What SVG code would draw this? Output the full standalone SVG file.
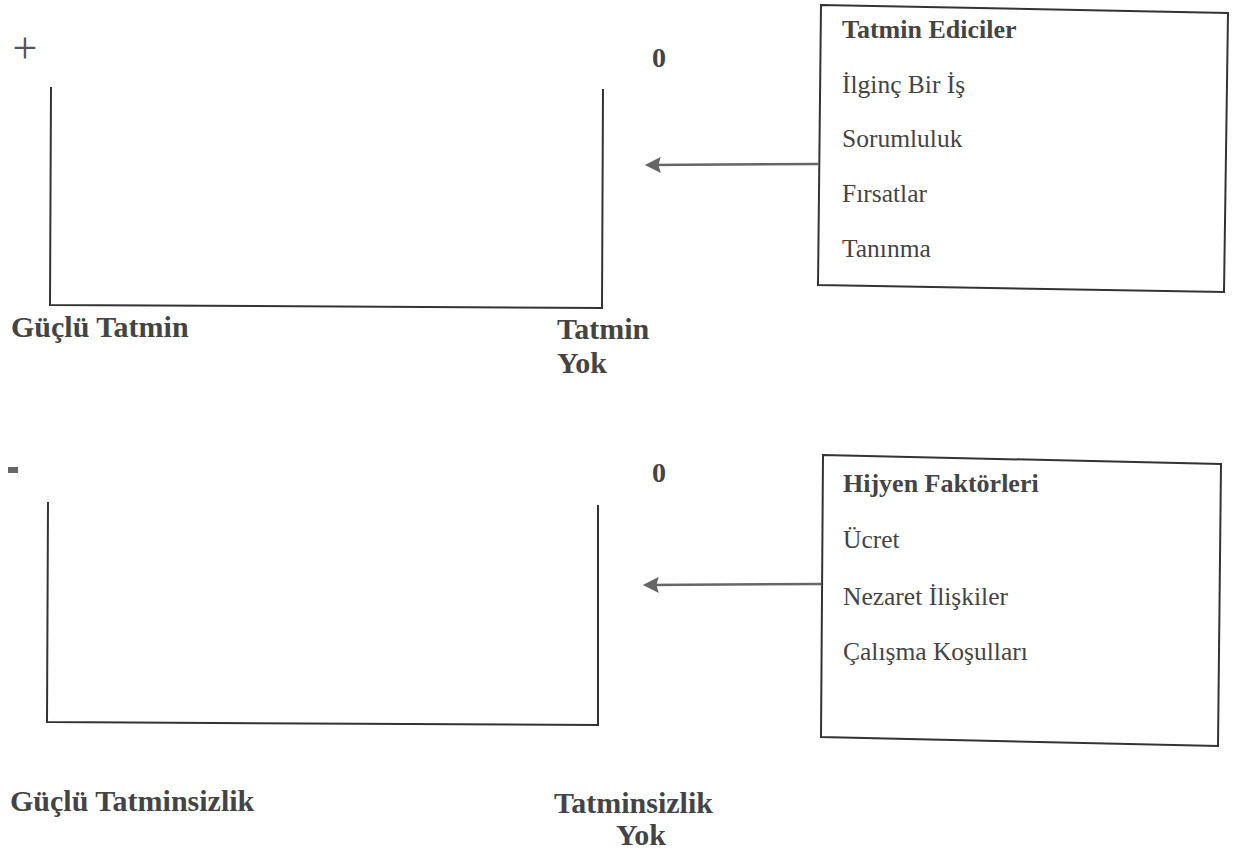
<svg xmlns="http://www.w3.org/2000/svg" width="1235" height="862" viewBox="0 0 1235 862">
<style>
.t{font-family:"Liberation Serif","Times New Roman",serif;fill:#444}
.b{font-weight:bold}
.big{font-size:30px}
.hd{font-size:26px}
.it{font-size:25.5px}
.ln{fill:none;stroke:#333;stroke-width:2}
.box{fill:none;stroke:#333;stroke-width:2}
.conn{stroke:#666;stroke-width:2.5;fill:none}
</style>
<defs>
<marker id="ah" viewBox="0 0 10 10" refX="8" refY="5" markerWidth="7" markerHeight="6.4" orient="auto" markerUnits="strokeWidth">
<path d="M10,5 L0,0 L1.5,5 L0,10 Z" fill="#666"/>
</marker>
</defs>
<rect width="1235" height="862" fill="#fff"/>

<g id="scale-top">
<path class="ln" d="M51,87 L50,305 L602,308 L603,89"/>
<text class="t" x="25" y="63" font-size="44" text-anchor="middle" style="fill:#555">+</text>
<text class="t b" x="659" y="67" font-size="28" text-anchor="middle">0</text>
<text class="t b big" x="11" y="337">Güçlü Tatmin</text>
<text class="t b big" x="557" y="339">Tatmin</text>
<text class="t b big" x="557" y="373">Yok</text>
</g>

<g id="box-satisfiers">
<polygon class="box" points="821,5 1228,13 1224,292 818,285"/>
<text class="t b hd" x="842" y="38">Tatmin Ediciler</text>
<text class="t it" x="842" y="93">İlginç Bir İş</text>
<text class="t it" x="842" y="147">Sorumluluk</text>
<text class="t it" x="842" y="202">Fırsatlar</text>
<text class="t it" x="842" y="257">Tanınma</text>
</g>

<g id="scale-bottom">
<path class="ln" d="M48,502 L47,722 L598,725 L598,505"/>
<rect x="8" y="467" width="10" height="6" fill="#666"/>
<text class="t b" x="659" y="482" font-size="28" text-anchor="middle">0</text>
<text class="t b big" x="10" y="811">Güçlü Tatminsizlik</text>
<text class="t b big" x="554" y="813">Tatminsizlik</text>
<text class="t b big" x="616" y="845">Yok</text>
</g>

<g id="box-hygiene">
<polygon class="box" points="823,455 1221,464 1218,746 821,737"/>
<text class="t b hd" x="843" y="492">Hijyen Faktörleri</text>
<text class="t it" x="843" y="548">Ücret</text>
<text class="t it" x="843" y="605">Nezaret İlişkiler</text>
<text class="t it" x="843" y="660">Çalışma Koşulları</text>
</g>

<g id="connectors">
<line class="conn" x1="819" y1="164" x2="648" y2="165" marker-end="url(#ah)"/>
<line class="conn" x1="821" y1="584" x2="646" y2="585" marker-end="url(#ah)"/>
</g>
</svg>
